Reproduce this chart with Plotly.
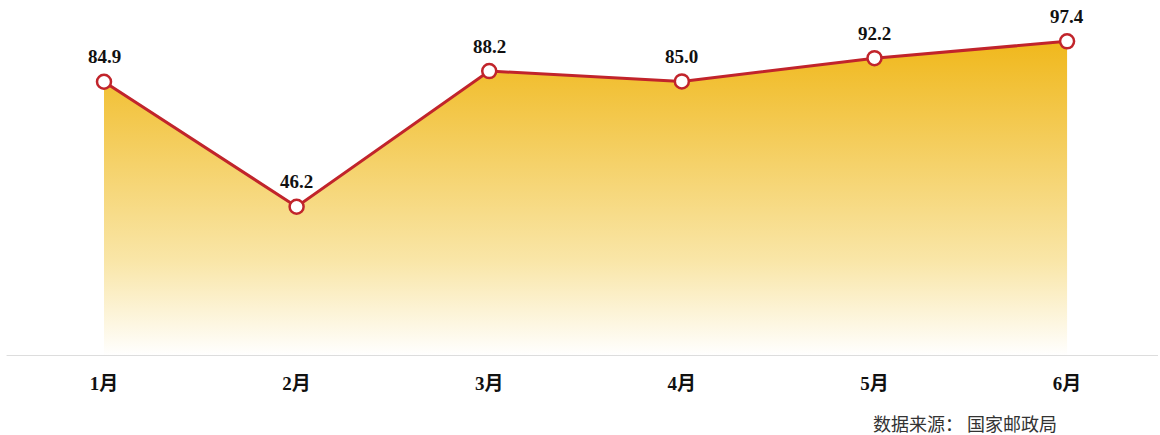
import plotly.graph_objects as go

months = ["1月", "2月", "3月", "4月", "5月", "6月"]
values = [84.9, 46.2, 88.2, 85.0, 92.2, 97.4]
labels = ["84.9", "46.2", "88.2", "85.0", "92.2", "97.4"]
source = "数据来源： 国家邮政局"

xs = list(range(len(months)))

fig = go.Figure()
fig.add_trace(go.Scatter(
    x=xs, y=values, mode="lines+markers",
    fill="tozeroy",
    fillgradient=dict(type="vertical",
                      colorscale=[[0, "rgba(255,255,255,1)"], [0.3, "#F9E6A8"], [1, "#F0B81C"]]),
    line=dict(color="#C1242B", width=3),
    marker=dict(size=14, color="white", line=dict(color="#C1242B", width=2.5)),
    cliponaxis=False,
    hoverinfo="skip",
))

label_font = dict(family="Liberation Serif, DejaVu Serif, serif", size=19, color="#111111", weight="bold")
annotations = [dict(x=x, y=v, text=t, xref="x", yref="y", showarrow=False,
                    yshift=25, font=label_font, xanchor="center", yanchor="middle")
               for x, v, t in zip(xs, values, labels)]
annotations.append(dict(text=source, xref="paper", yref="paper", x=0.832, y=-0.194,
                        xanchor="center", yanchor="middle", showarrow=False,
                        font=dict(family="Noto Sans CJK SC, sans-serif", size=18, color="#333333")))

fig.update_layout(
    width=1160, height=435,
    margin=dict(l=10, r=2, t=10, b=79),
    paper_bgcolor="white", plot_bgcolor="white",
    showlegend=False,
    xaxis=dict(range=[-0.488, 5.472], tickmode="array", tickvals=xs, ticktext=months,
               showgrid=False, zeroline=False, showline=False, ticks="",
               tickfont=dict(family="Liberation Serif, Noto Sans CJK SC, serif", size=19, color="#111111", weight="bold"),
               ticklabelstandoff=14),
    yaxis=dict(range=[0, 107.1], visible=False, showgrid=False, zeroline=False),
    shapes=[dict(type="line", xref="paper", yref="y", x0=-0.003, x1=1, y0=0, y1=0,
                 line=dict(color="#DDDDDD", width=2), layer="above")],
    annotations=annotations,
)

fig.write_html("out.html", config={"displayModeBar": False},
               post_script="document.body.style.margin='0px';")
